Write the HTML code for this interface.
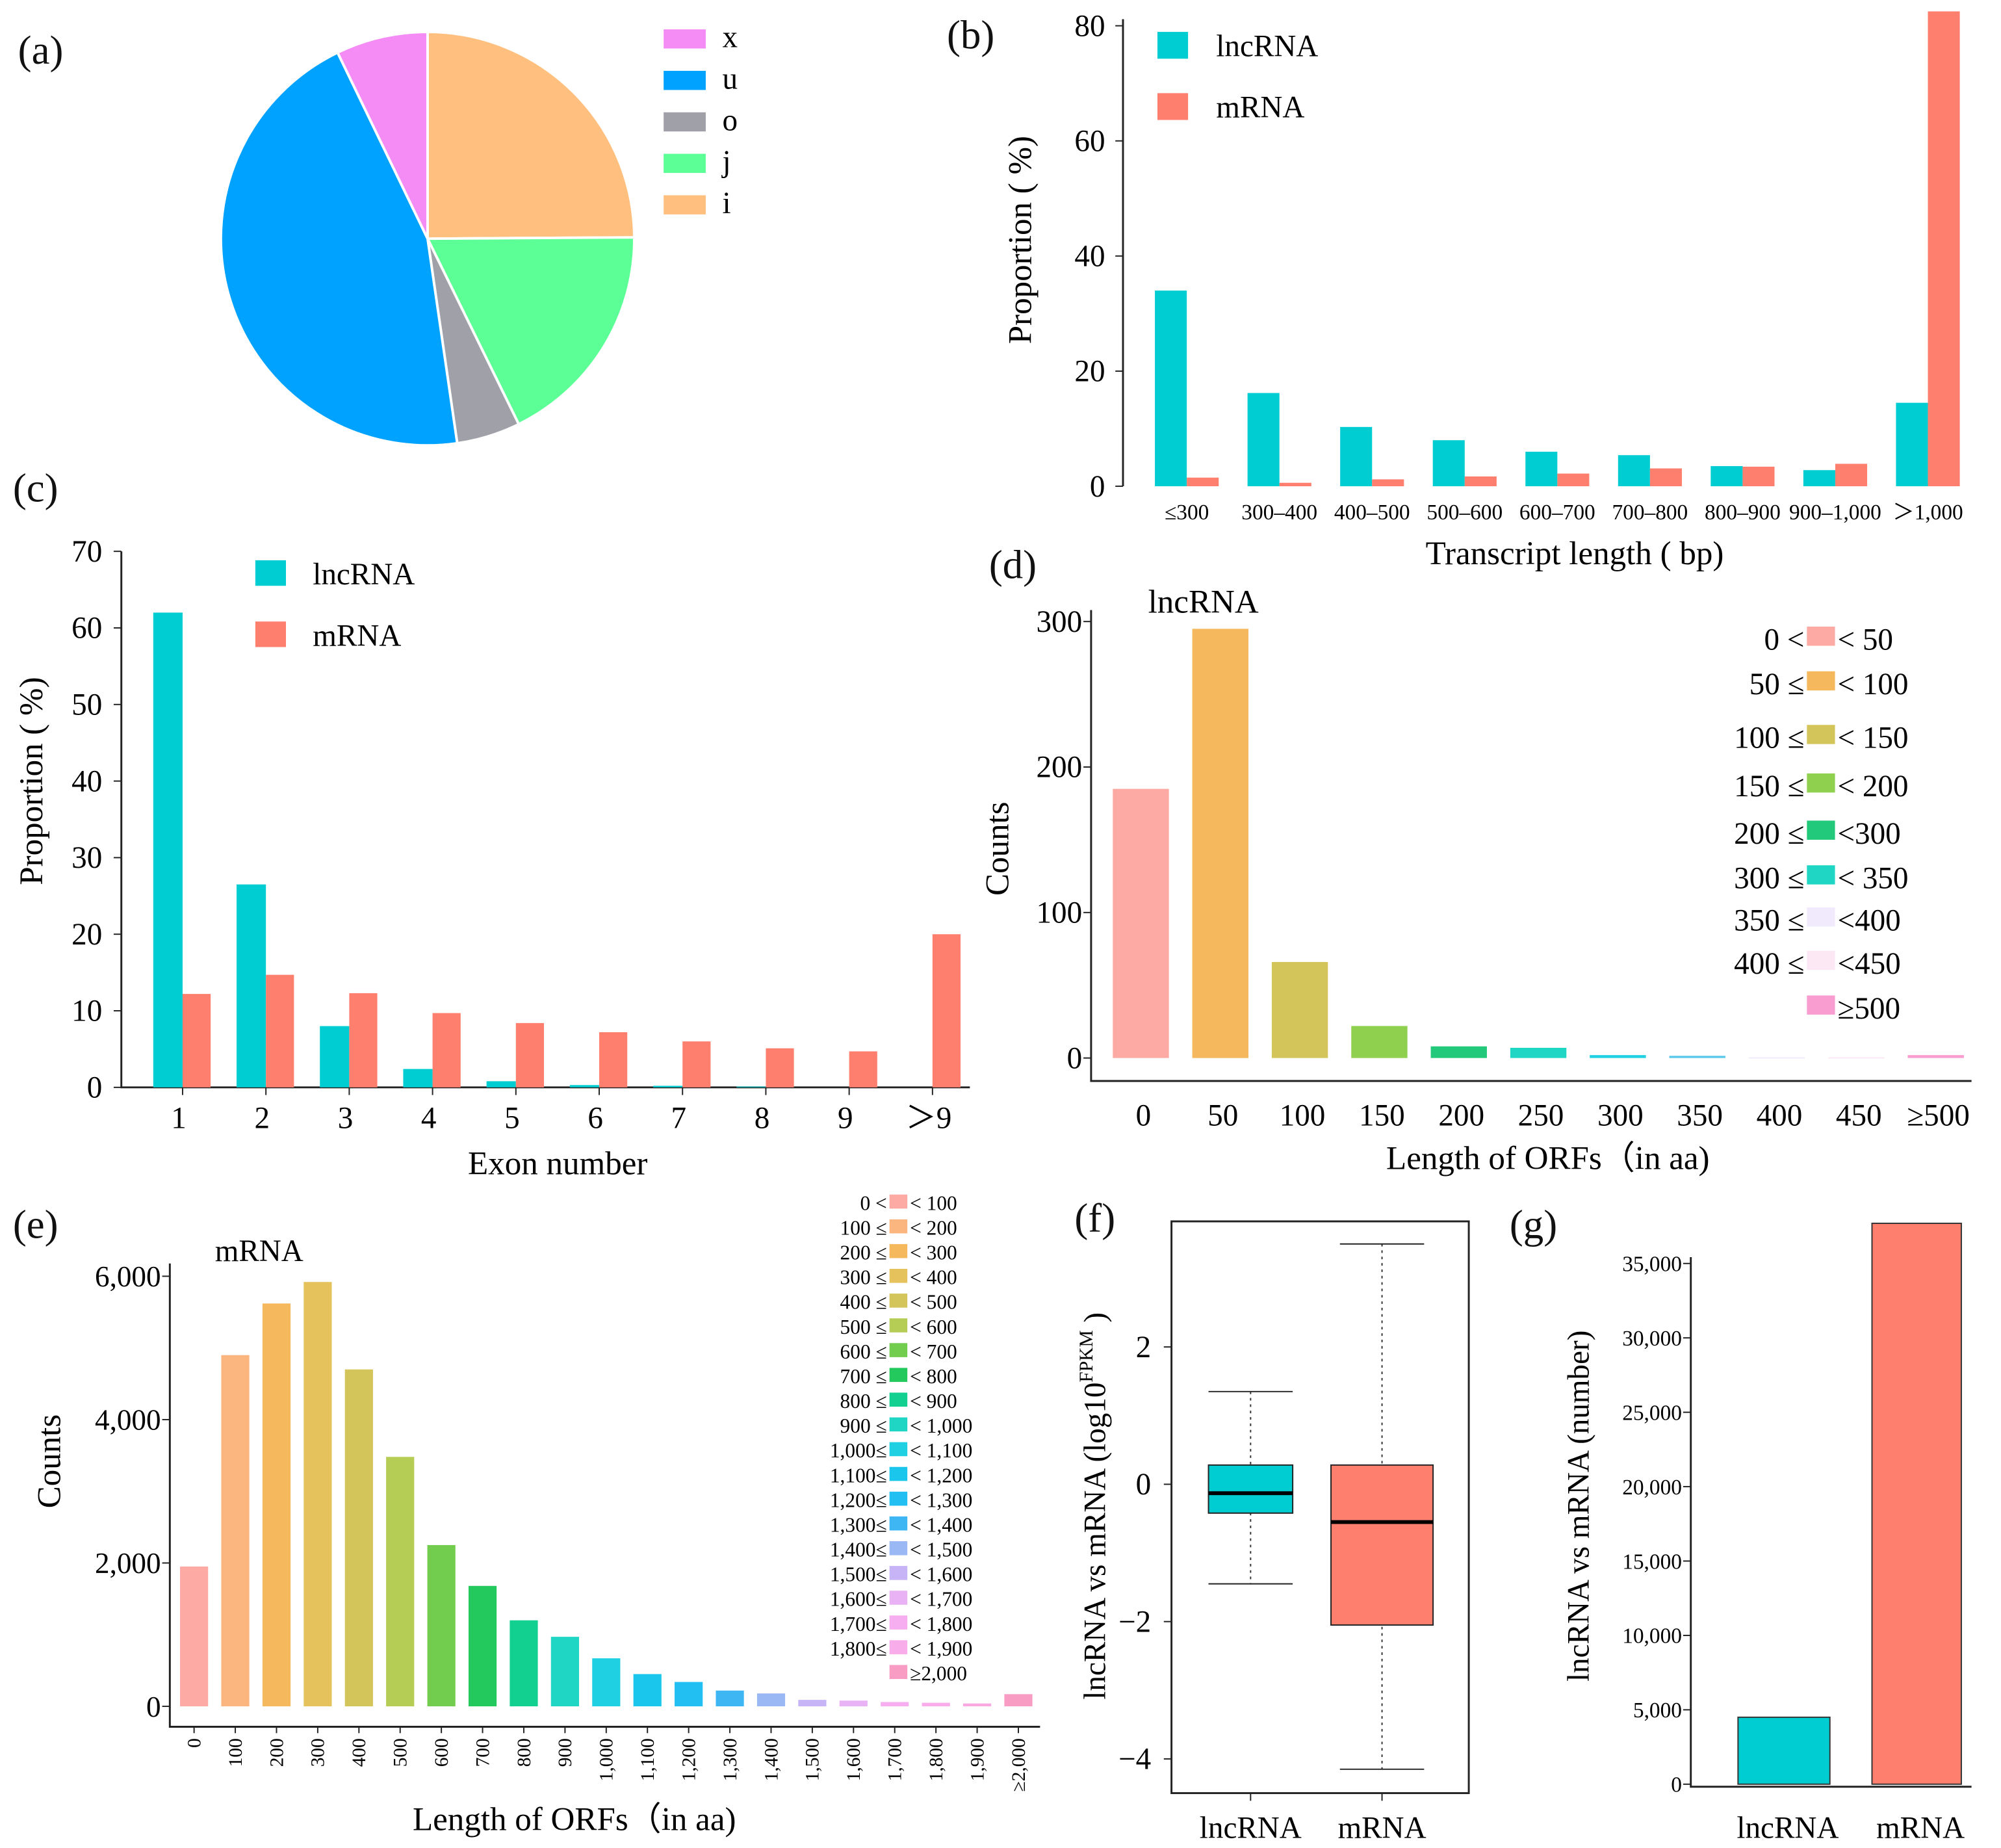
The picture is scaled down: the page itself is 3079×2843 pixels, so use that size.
<!DOCTYPE html>
<html><head><meta charset="utf-8">
<style>
html,body{margin:0;padding:0;background:#fff;}
svg{display:block;font-family:"Liberation Serif",serif;}
</style></head>
<body>
<svg id="fig" width="3079" height="2843" viewBox="0 0 1568 1448" xmlns="http://www.w3.org/2000/svg">
<rect width="1568" height="1448" fill="#fff"/>
<g font-size="32" fill="#111">
<text x="14" y="50">(a)</text>
<text x="742" y="38">(b)</text>
<text x="10" y="393">(c)</text>
<text x="775" y="453">(d)</text>
<text x="10" y="970">(e)</text>
<text x="842" y="965">(f)</text>
<text x="1183" y="970">(g)</text>
</g>
<g id="root"></g>
</svg>
<script>
// ---- data ----
const pieLabels=["i","j","o","u","x"];
const pieValues=[25,17.9,5,45.3,7.2];
const pieColors=["#ffc07f","#5cff96","#a0a0a8","#00a2ff","#f58cf6"];

const bCats=["≤300","300–400","400–500","500–600","600–700","700–800","800–900","900–1,000","＞1,000"];
const bLnc=[34,16.2,10.3,8,6,5.4,3.5,2.8,14.5];
const bMrna=[1.5,0.6,1.2,1.7,2.2,3.1,3.4,3.9,82.5];
const bTicks=[0,20,40,60,80];

const cCats=["1","2","3","4","5","6","7","8","9","＞9"];
const cLnc=[62,26.5,8,2.4,0.8,0.3,0.2,0.1,0,0];
const cMrna=[12.2,14.7,12.3,9.7,8.4,7.2,6,5.1,4.7,20];
const cTicks=[0,10,20,30,40,50,60,70];

const dCats=["0","50","100","150","200","250","300","350","400","450","≥500"];
const dVals=[185,295,66,22,8,7,2,1.5,0.5,0.5,2];
const dTicks=[0,100,200,300];
const dLegL=["0 <","50 ≤","100 ≤","150 ≤","200 ≤","300 ≤","350 ≤","400 ≤",""];
const dLegR=["< 50","< 100","< 150","< 200","<300","< 350","<400","<450","≥500"];

const eCats=["0","100","200","300","400","500","600","700","800","900","1,000","1,100","1,200","1,300","1,400","1,500","1,600","1,700","1,800","1,900","≥2,000"];
const eVals=[1950,4900,5620,5920,4700,3480,2250,1680,1200,970,670,450,340,220,180,90,80,60,50,40,170];
const eTicks=[0,2000,4000,6000];
const eLegL=["0 <","100 ≤","200 ≤","300 ≤","400 ≤","500 ≤","600 ≤","700 ≤","800 ≤","900 ≤","1,000≤","1,100≤","1,200≤","1,300≤","1,400≤","1,500≤","1,600≤","1,700≤","1,800≤",""];
const eLegR=["< 100","< 200","< 300","< 400","< 500","< 600","< 700","< 800","< 900","< 1,000","< 1,100","< 1,200","< 1,300","< 1,400","< 1,500","< 1,600","< 1,700","< 1,800","< 1,900","≥2,000"];

const fCats=["lncRNA","mRNA"];
const fLo=[-1.45,-4.15];
const fQ1=[-0.42,-2.05];
const fMed=[-0.13,-0.55];
const fQ3=[0.28,0.28];
const fHi=[1.35,3.5];
const fTicks=[-4,-2,0,2];

const gCats=["lncRNA","mRNA"];
const gVals=[4500,37700];
const gTicks=[0,5000,10000,15000,20000,25000,30000,35000];

// ---- helpers ----
const NS="http://www.w3.org/2000/svg";
const root=document.getElementById('root');
function mk(tag,attrs,parent,txt){const e=document.createElementNS(NS,tag);for(const k in attrs)e.setAttribute(k,attrs[k]);if(txt!==undefined)e.textContent=txt;(parent||root).appendChild(e);return e;}
const fmt=v=>v.toLocaleString('en-US');
const LNC="#00cdd1", MR="#fe7f6e";

// ---- (a) pie ----
(function(){
const cx=335,cy=187,r=162,tot=pieValues.reduce((a,b)=>a+b,0);let a0=0;
pieValues.forEach((v,i)=>{const a1=a0+v/tot*2*Math.PI;
const p=(a)=>[cx+r*Math.sin(a),cy-r*Math.cos(a)];const [x0,y0]=p(a0),[x1,y1]=p(a1);
const s=mk('path',{d:`M${cx},${cy}L${x0},${y0}A${r},${r} 0 ${a1-a0>Math.PI?1:0} 1 ${x1},${y1}Z`,fill:pieColors[i],stroke:'#fff','stroke-width':2});


a0=a1;});
const order=[4,3,2,1,0];
order.forEach((idx,k)=>{const y=23+k*32.5;
const sq=mk('rect',{x:520,y:y,width:33,height:15,fill:pieColors[idx]});


const t=mk('text',{x:566,y:y+14,'font-size':24},null,pieLabels[idx]);

});
})();

// ---- (b) ----
(function(){
const y=v=>381-v*4.51, xc=i=>930+i*72.6;
const ax=mk('line',{x1:880,y1:15,x2:880,y2:381,stroke:'#222','stroke-width':1.5});


bTicks.forEach(t=>{mk('line',{x1:874,x2:880,y1:y(t),y2:y(t),stroke:'#222'});
const tx=mk('text',{x:866,y:y(t)+8,'text-anchor':'end','font-size':24},null,t);

});
bCats.forEach((c,i)=>{
const r1=mk('rect',{x:xc(i)-25,y:y(bLnc[i]),width:25,height:bLnc[i]*4.51,fill:LNC});


const r2=mk('rect',{x:xc(i),y:y(bMrna[i]),width:25,height:bMrna[i]*4.51,fill:MR});


const t=mk('text',{x:xc(i),y:407,'text-anchor':'middle','font-size':17},null,c);

});
const xt=mk('text',{x:1234,y:442,'text-anchor':'middle','font-size':26},null,'Transcript length ( bp)');


const yt=mk('text',{x:0,y:0,'text-anchor':'middle','font-size':26,transform:'translate(808,188) rotate(-90)'},null,'Proportion ( %)');


[['lncRNA',LNC,25],['mRNA',MR,73]].forEach(([n,c,yy])=>{
const s=mk('rect',{x:907,y:yy,width:24,height:21,fill:c});


const t=mk('text',{x:953,y:yy+19,'font-size':24},null,n);

});
})();

// ---- (c) ----
(function(){
const y=v=>852-v*6, xc=i=>143+i*65.3;
const ax=mk('path',{d:'M95,432V852H760',fill:'none',stroke:'#222','stroke-width':1.5});


cTicks.forEach(t=>{mk('line',{x1:89,x2:95,y1:y(t),y2:y(t),stroke:'#222'});
const tx=mk('text',{x:80,y:y(t)+8,'text-anchor':'end','font-size':24},null,t);

});
cCats.forEach((c,i)=>{
const r1=mk('rect',{x:xc(i)-23,y:y(cLnc[i]),width:23,height:cLnc[i]*6,fill:LNC});


const r2=mk('rect',{x:xc(i),y:y(cMrna[i]),width:22,height:cMrna[i]*6,fill:MR});


mk('line',{x1:xc(i),x2:xc(i),y1:852,y2:858,stroke:'#222'});
const t=mk('text',{x:xc(i)-3,y:884,'text-anchor':'middle','font-size':24},null,c);

});
const xt=mk('text',{x:437,y:920,'text-anchor':'middle','font-size':26},null,'Exon number');


const yt=mk('text',{x:0,y:0,'text-anchor':'middle','font-size':26,transform:'translate(33,612) rotate(-90)'},null,'Proportion ( %)');


[['lncRNA',LNC,439],['mRNA',MR,487]].forEach(([n,c,yy])=>{
const s=mk('rect',{x:200,y:yy,width:24,height:20,fill:c});


const t=mk('text',{x:245,y:yy+19,'font-size':24},null,n);

});
})();

// ---- (d) ----
(function(){
const cols=["#fcaaa3","#f6b85c","#d4c55a","#8fd04e","#22c97a","#1fd6c5","#1fd0e2","#59c8ea","#f0eafc","#fbe8f4","#f99cd0"];
const k=1.14,y=v=>829-v*k, xc=i=>894+i*62.3;
const ax=mk('path',{d:'M855,478V847H1545',fill:'none',stroke:'#222','stroke-width':1.5});


dTicks.forEach(t=>{mk('line',{x1:849,x2:855,y1:y(t),y2:y(t),stroke:'#222'});
const tx=mk('text',{x:848,y:y(t)+8,'text-anchor':'end','font-size':24},null,t);

});
dCats.forEach((c,i)=>{
const r=mk('rect',{x:xc(i)-22,y:y(dVals[i]),width:44,height:Math.max(dVals[i]*k,1),fill:cols[i]});


const t=mk('text',{x:xc(i)+2,y:882,'text-anchor':'middle','font-size':24},null,c);

});
const lb=mk('text',{x:943,y:480,'text-anchor':'middle','font-size':26},null,'lncRNA');


const xt=mk('text',{x:1213,y:916,'text-anchor':'middle','font-size':26},null,'Length of ORFs（in aa)');


const yt=mk('text',{x:0,y:0,'text-anchor':'middle','font-size':26,transform:'translate(790,665) rotate(-90)'},null,'Counts');


const ly=[500,535,577,615,652,687,720,754,789];
const lc=[0,1,2,3,4,5,8,9,10];
ly.forEach((yy,j)=>{
const s=mk('rect',{x:1416,y:yy-9,width:22,height:15,fill:cols[lc[j]]});


const t1=mk('text',{x:1414,y:yy+9,'text-anchor':'end','font-size':24},null,dLegL[j]);


const t2=mk('text',{x:1440,y:yy+9,'font-size':24},null,dLegR[j]);

});
})();

// ---- (e) ----
(function(){
const cols=["#fcaaa3","#fbb57f","#f6b85c","#e6c25c","#d4c55a","#b5cc55","#72cc4e","#24c95e","#12d08f","#1fd6c5","#1fd0e2","#1ac6ec","#22bff2","#3fb6f4","#9ab8f4","#c6b4f6","#e8b2f4","#f6aef0","#f8acea","#f9a8e2","#f99cc4"];
const k=337/6000,y=v=>1337-v*k, xc=i=>152+i*32.3;
const ax=mk('path',{d:'M133,990V1353H815',fill:'none',stroke:'#222','stroke-width':1.5});


eTicks.forEach(t=>{mk('line',{x1:127,x2:133,y1:y(t),y2:y(t),stroke:'#222'});
const tx=mk('text',{x:126,y:y(t)+8,'text-anchor':'end','font-size':23},null,fmt(t));

});
eCats.forEach((c,i)=>{
const r=mk('rect',{x:xc(i)-11,y:y(eVals[i]),width:22,height:eVals[i]*k,fill:cols[i]});


mk('line',{x1:xc(i),x2:xc(i),y1:1353,y2:1358,stroke:'#222'});
const t=mk('text',{x:0,y:0,'text-anchor':'end','font-size':15,transform:`translate(${xc(i)+5},1362) rotate(-90)`},null,c);

});
const lb=mk('text',{x:203,y:988,'text-anchor':'middle','font-size':24},null,'mRNA');


const xt=mk('text',{x:450,y:1434,'text-anchor':'middle','font-size':26},null,'Length of ORFs（in aa)');


const yt=mk('text',{x:0,y:0,'text-anchor':'middle','font-size':26,transform:'translate(47,1145) rotate(-90)'},null,'Counts');


eLegR.forEach((r,j)=>{const yy=942+j*19.4;
const s=mk('rect',{x:697,y:yy-6,width:14,height:11,fill:cols[j===19?20:j]});


const t1=mk('text',{x:695,y:yy+6,'text-anchor':'end','font-size':16},null,eLegL[j]);


const t2=mk('text',{x:713,y:yy+6,'font-size':16},null,r);

});
})();

// ---- (f) ----
(function(){
const k=53.8,y=v=>1163-v*k, xc=[980,1083], w=[66,80], cols=[LNC,MR];
const fr=mk('rect',{x:918,y:957,width:233,height:448,fill:'none',stroke:'#222','stroke-width':1.5});


fTicks.forEach(t=>{mk('line',{x1:912,x2:918,y1:y(t),y2:y(t),stroke:'#222'});
const tx=mk('text',{x:902,y:y(t)+8,'text-anchor':'end','font-size':24},null,t<0?'−'+(-t):t);

});
fCats.forEach((c,i)=>{
const wl=mk('line',{x1:xc[i],x2:xc[i],y1:y(fHi[i]),y2:y(fLo[i]),stroke:'#333','stroke-dasharray':'2,3'});


[fHi[i],fLo[i]].forEach(v=>mk('line',{x1:xc[i]-33,x2:xc[i]+33,y1:y(v),y2:y(v),stroke:'#222'}));
const b=mk('rect',{x:xc[i]-w[i]/2,y:y(fQ3[i]),width:w[i],height:(fQ3[i]-fQ1[i])*k,fill:cols[i],stroke:'#222'});


const m=mk('line',{x1:xc[i]-w[i]/2,x2:xc[i]+w[i]/2,y1:y(fMed[i]),y2:y(fMed[i]),stroke:'#000','stroke-width':3});


mk('line',{x1:xc[i],x2:xc[i],y1:1405,y2:1411,stroke:'#222'});
const t=mk('text',{x:xc[i],y:1440,'text-anchor':'middle','font-size':24},null,c);

});
const yt=mk('text',{x:0,y:0,'text-anchor':'middle','font-size':24,transform:'translate(866,1180) rotate(-90)'});


mk('tspan',{},yt,'lncRNA vs mRNA (log10');
mk('tspan',{'font-size':15,dy:-10},yt,'FPKM');
mk('tspan',{dy:10},yt,' )');
})();

// ---- (g) ----
(function(){
const k=408/35000,y=v=>1398-v*k, xc=[1398,1502], w=[72,70];
const ax=mk('path',{d:'M1325,985V1400H1545',fill:'none',stroke:'#222','stroke-width':1.5});


gTicks.forEach(t=>{mk('line',{x1:1319,x2:1325,y1:y(t),y2:y(t),stroke:'#222'});
const tx=mk('text',{x:1318,y:y(t)+6,'text-anchor':'end','font-size':17},null,fmt(t));

});
gCats.forEach((c,i)=>{
const b=mk('rect',{x:xc[i]-w[i]/2,y:y(gVals[i]),width:w[i],height:gVals[i]*k,fill:[LNC,MR][i],stroke:'#333'});


const t=mk('text',{x:xc[i]+3,y:1440,'text-anchor':'middle','font-size':24},null,c);

});
const yt=mk('text',{x:0,y:0,'text-anchor':'middle','font-size':24,transform:'translate(1245,1180) rotate(-90)'},null,'lncRNA vs mRNA (number)');


})();
</script>
</body></html>
